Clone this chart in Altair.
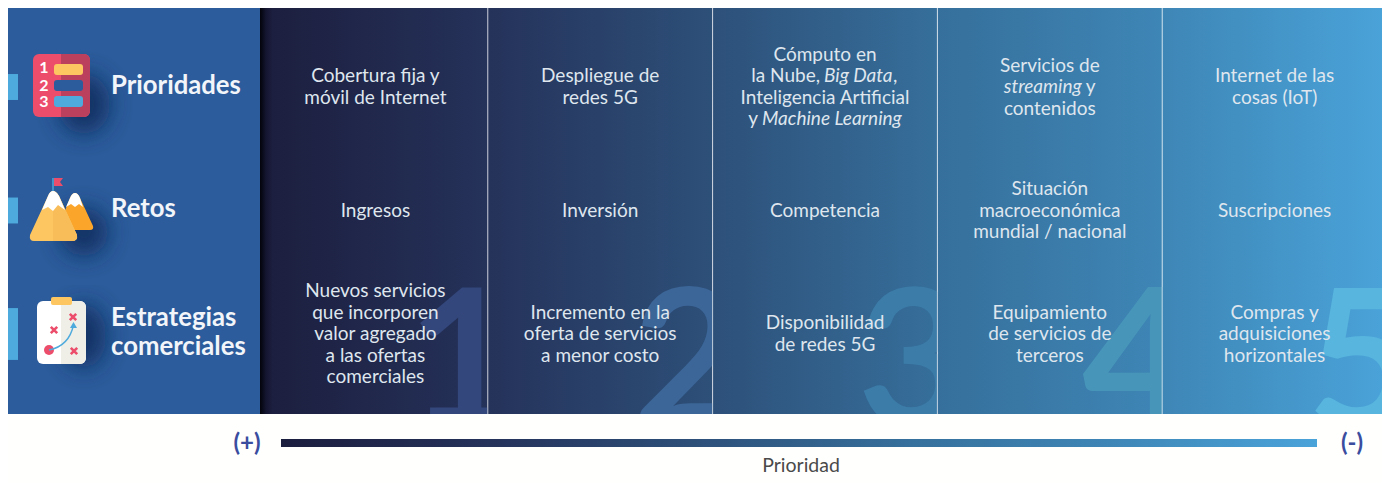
import base64
import altair as alt
import pandas as pd

FONT = "Lato"
rows = [["Prioridades"], ["Retos"], ["Estrategias", "comerciales"]]
digits = ["1", "2", "3", "4", "5"]
edge_colors = ["#1c1e3e", "#25325a", "#2d5079", "#366f9b", "#3e86b6", "#4aa3d9"]
digit_colors = ["#33477c", "#3c6698", "#3c7ca9", "#4796ba", "#58b5dd"]
tab_spans = [0.21, 0.21, 0.42]

cells = [
    [["Cobertura fija y", "móvil de Internet"], ["Ingresos"],
     ["Nuevos servicios", "que incorporen", "valor agregado", "a las ofertas", "comerciales"]],
    [["Despliegue de", "redes 5G"], ["Inversión"],
     ["Incremento en la", "oferta de servicios", "a menor costo"]],
    [["Cómputo en", None, "Inteligencia Artificial", None], ["Competencia"],
     ["Disponibilidad", "de redes 5G"]],
    [["Servicios de", None, "contenidos"], ["Situación", "macroeconómica", "mundial / nacional"],
     ["Equipamiento", "de servicios de", "terceros"]],
    [["Internet de las", "cosas (IoT)"], ["Suscripciones"],
     ["Compras y", "adquisiciones", "horizontales"]],
]
# mixed roman / italic lines: column, row, line, number of lines, text, style, align, pixel shift from the column centre
mixed = [
    (2, 0, 1, 4, "la Nube,", "normal", "right", -5),
    (2, 0, 1, 4, "Big Data", "italic", "left", -1),
    (2, 0, 1, 4, ",", "normal", "left", 68),
    (2, 0, 3, 4, "y", "normal", "right", -67),
    (2, 0, 3, 4, "Machine Learning", "italic", "left", -63),
    (3, 0, 1, 3, "streaming", "italic", "left", -46),
    (3, 0, 1, 3, "y", "normal", "left", 36),
]

STEP_X = 224.8
STEP_Y = 123.5
LINE = 21.5 / STEP_Y
xs = alt.Scale(domain=[0, 5], range=[255, 1379])
ys = alt.Scale(domain=[0, 3], range=[17.25, 387.75])
X = lambda f: alt.X(f, type="quantitative", scale=xs, axis=None)
Y = lambda f: alt.Y(f, type="quantitative", scale=ys, axis=None)
one = pd.DataFrame({"a": [0]})


def grad(colors):
    n = len(colors) - 1
    return alt.Gradient(
        gradient="linear", x1=0, x2=1, y1=0, y2=0,
        stops=[alt.GradientStop(color=c, offset=i / n) for i, c in enumerate(colors)],
    )


def box(px0, px1, py0, py1, color):
    return alt.Chart(one).mark_rect(color=color).encode(
        x=alt.value(px0 - 8), x2=alt.value(px1 - 8), y=alt.value(py0 - 8), y2=alt.value(py1 - 8))


def label(text, px, py, **kw):
    return alt.Chart(pd.DataFrame({"t": [text]})).mark_text(font=FONT, baseline="middle", **kw).encode(
        text="t:N", x=alt.value(px - 8), y=alt.value(py - 8))


def icon(svg, view_x, view_y):
    head = f'<svg xmlns="http://www.w3.org/2000/svg" width="120" height="120" viewBox="{view_x} {view_y} 120 120">'
    defs = '<defs><filter id="b" x="-100%" y="-100%" width="300%" height="300%"><feGaussianBlur stdDeviation="11"/></filter></defs>'
    url = "data:image/svg+xml;base64," + base64.b64encode((head + defs + svg + "</svg>").encode()).decode()
    return alt.Chart(pd.DataFrame({"u": [url]})).mark_image(width=120, height=120, align="left", baseline="top").encode(
        url="u:N", x=alt.value(view_x - 8), y=alt.value(view_y - 8))


def cross(cx, cy, r=3.2):
    return (f'<path d="M{cx-r} {cy-r}L{cx+r} {cy+r}M{cx+r} {cy-r}L{cx-r} {cy+r}" '
            'stroke="#ec4d6a" stroke-width="2.6" fill="none"/>')


ICON_LIST = """
<ellipse cx="84" cy="104" rx="26" ry="30" fill="#0f2a5c" opacity=".85" filter="url(#b)"/>
<rect x="33" y="54" width="57" height="63" rx="6" fill="#ec4d6a"/>
<path d="M61 54H84a6 6 0 0 1 6 6V111a6 6 0 0 1-6 6H61Z" fill="#ba405e"/>
<rect x="54" y="64" width="29" height="11" rx="3" fill="#fdc661"/>
<rect x="54" y="80" width="29" height="11" rx="3" fill="#2c5c9b"/>
<rect x="54" y="96" width="29" height="11" rx="3" fill="#4eaadc"/>
"""
ICON_PEAKS = """
<ellipse cx="84" cy="232" rx="24" ry="24" fill="#0f2a5c" opacity=".85" filter="url(#b)"/>
<path d="M53 178V192" stroke="#4eaadc" stroke-width="1.4"/>
<path d="M54 178H63L60 182L63 186H54Z" fill="#ec4d6a"/>
<path d="M75 193Q72 193 70 198L62 218V230H90Q94 230 93 226L80 198Q78 193 75 193Z" fill="#fba62b"/>
<path d="M75 193Q72 193 70 198L66 207L71 204L75 207L79 204L83 207L80 198Q78 193 75 193Z" fill="#fff"/>
<path d="M53 191Q50 191 48 196L30 235Q29 241 34 241H72Q78 241 77 235L59 196Q56 191 53 191Z" fill="#fdc661"/>
<path d="M53 191Q56 191 59 196L77 235Q78 241 72 241H53Z" fill="#f8bd58"/>
<path d="M53 191Q50 191 48 196L42 210L48 207L53 211L58 205L65 210L59 196Q56 191 53 191Z" fill="#fff"/>
"""
ICON_BOARD = (
    '<ellipse cx="84" cy="336" rx="22" ry="32" fill="#0f2a5c" opacity=".85" filter="url(#b)"/>'
    '<rect x="37" y="301" width="49" height="63" rx="6" fill="#fff"/>'
    '<path d="M61 301H80a6 6 0 0 1 6 6V358a6 6 0 0 1-6 6H61Z" fill="#efefe8"/>'
    '<rect x="51" y="297" width="21" height="8" rx="2" fill="#fdc661"/>'
    + cross(73, 317) + cross(54, 330) + cross(74, 351)
    + '<circle cx="49" cy="350" r="5" fill="#ec4d6a"/>'
    '<path d="M49 350Q69 346 73.500 325" stroke="#4eaadc" stroke-width="1.4" fill="none"/>'
    '<path d="M73.500 322L77 328H70Z" fill="#4eaadc"/>'
)

layers = [box(8, 260, 8, 414, "#2c5c9b")]

tabs = pd.DataFrame({"y0": [i + 0.5 - s / 2 for i, s in enumerate(tab_spans)],
                     "y1": [i + 0.5 + s / 2 for i, s in enumerate(tab_spans)]})
layers.append(alt.Chart(tabs).mark_rect(color="#4eaadc").encode(
    x=alt.value(0), x2=alt.value(10), y=Y("y0"), y2=alt.Y2("y1")))

layers += [icon(ICON_LIST, 20, 40), icon(ICON_PEAKS, 20, 165), icon(ICON_BOARD, 20, 285)]
for n, py in zip("123", [68, 85.5, 102]):
    layers.append(label(n, 44, py, fontSize=16, fontWeight=700, color="#ffffff", align="center"))

row_rec = []
for i, lines in enumerate(rows):
    for k, t in enumerate(lines):
        row_rec.append(dict(t=t, y=i + 0.49 + (k - (len(lines) - 1) / 2) * 29 / STEP_Y))
layers.append(alt.Chart(pd.DataFrame(row_rec)).mark_text(
    font=FONT, fontSize=25.7, fontWeight=700, color="#f2f5f9", align="left", baseline="middle"
).encode(text="t:N", x=alt.value(103), y=Y("y")))

# each column drawn over the previous digit, which trims it at the column edge
for i, d in enumerate(digits):
    col = pd.DataFrame({"x0": [i], "x1": [i + 1]})
    layers.append(alt.Chart(col).mark_rect(color=grad(edge_colors[i:i + 2])).encode(
        x=X("x0"), x2=alt.X2("x1"), y=alt.value(0), y2=alt.value(406)))
    dg = pd.DataFrame({"x": [i + 1 - 80 / STEP_X], "t": [d]})
    layers.append(alt.Chart(dg).mark_text(
        font=FONT, fontSize=190, fontWeight=700, color=digit_colors[i], align="left", baseline="alphabetic"
    ).encode(text="t:N", x=X("x"), y=alt.value(417)))

layers.append(box(260, 272, 8, 414, grad(["#02030a", "#141530", "#1c1e3e"])))
layers.append(box(8, 1390, 414, 483, "#fffffd"))

rules = pd.DataFrame({"x": [1, 2, 3, 4]})
layers.append(alt.Chart(rules).mark_rule(color="#ffffff", opacity=0.7, strokeWidth=1).encode(
    x=X("x"), y=alt.value(0), y2=alt.value(406)))

recs = []
for c, column in enumerate(cells):
    for r, lines in enumerate(column):
        n = len(lines)
        for k, t in enumerate(lines):
            if t is not None:
                recs.append(dict(x=c + 0.5, y=r + 0.5 + (k - (n - 1) / 2) * LINE, t=t))
TEXT = dict(font=FONT, fontSize=19, fontWeight=400, color="#dfe6ee", baseline="middle")
layers.append(alt.Chart(pd.DataFrame(recs)).mark_text(align="center", **TEXT).encode(
    text="t:N", x=X("x"), y=Y("y")))
mx = pd.DataFrame([dict(x=c + 0.5 + px / STEP_X, y=r + 0.5 + (k - (n - 1) / 2) * LINE, t=t, s=s, a=a)
                   for c, r, k, n, t, s, a, px in mixed])
for (s, a), g in mx.groupby(["s", "a"]):
    layers.append(alt.Chart(g[["x", "y", "t"]]).mark_text(align=a, fontStyle=s, **TEXT).encode(
        text="t:N", x=X("x"), y=Y("y")))

layers.append(box(281, 1317, 439, 447, grad(edge_colors)))
layers.append(label("(+)", 247, 444, fontSize=24, fontWeight=700, color="#3a4d9f", align="center"))
layers.append(label("(-)", 1352, 444, fontSize=24, fontWeight=700, color="#3a4d9f", align="center"))
layers.append(label("Prioridad", 801, 466, fontSize=19.5, fontWeight=400, color="#4a4a4a", align="center"))

chart = alt.layer(*layers).properties(
    width=1374, height=475, padding=0, autosize=alt.AutoSizeParams(type="none"), background="#fffffd"
).configure_view(stroke=None)

chart.save("out.html", embed_options={"renderer": "svg", "actions": False})
